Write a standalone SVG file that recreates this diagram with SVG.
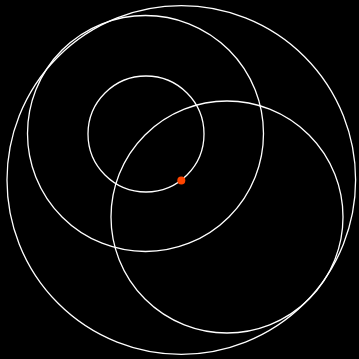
<svg xmlns="http://www.w3.org/2000/svg" width="359" height="359" viewBox="0 0 359 359">
<style>
.c{fill:none;stroke:#ffffff;stroke-width:1.3}
</style>
<rect width="359" height="359" fill="#000"/>
<g id="big"><circle class="c" cx="181.3" cy="180" r="174.3"/></g>
<g id="mid"><circle class="c" cx="145.5" cy="133.5" r="118"/></g>
<g id="small"><circle class="c" cx="146" cy="134" r="58"/></g>
<g id="right"><circle class="c" cx="227" cy="217" r="116"/></g>
<g id="dot"><circle cx="181.3" cy="180.5" r="4" fill="#ff4500"/></g>
</svg>
